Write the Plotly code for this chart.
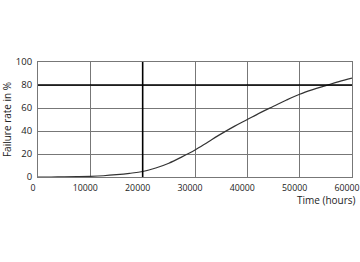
import plotly.graph_objects as go

time_hours = [0, 2500, 5000, 7500, 10000, 12500, 15000, 17500, 20000, 22500, 25000, 27500, 30000,
              32500, 35000, 37500, 40000, 42500, 45000, 47500, 50000, 52500, 55000, 57500, 60000]
failure_pct = [0, 0.02, 0.1, 0.3, 0.6, 1.1, 2.0, 3.2, 4.8, 7.8, 12, 17.5, 23.5,
               30.5, 37.5, 44, 50, 56, 61.5, 67, 72, 76, 79.5, 83, 86]
x_ticks = [0, 10000, 20000, 30000, 40000, 50000, 60000]
y_ticks = [0, 20, 40, 60, 80, 100]

fig = go.Figure()
fig.add_trace(go.Scatter(x=time_hours, y=failure_pct, mode="lines", line=dict(color="#333333", width=1.2, shape="spline"),
                         showlegend=False, hoverinfo="skip"))

font = dict(family="Open Sans, Liberation Sans, sans-serif", size=8.8, color="#222222")
title_font = dict(family=font["family"], size=10, color="#222222")
fig.update_layout(
    width=360, height=262,
    margin=dict(l=38, r=8, t=62, b=85),
    paper_bgcolor="white", plot_bgcolor="white",
    font=font,
    xaxis=dict(range=[0, 60000], tickvals=x_ticks, ticktext=[str(v) for v in x_ticks],
               showgrid=True, gridcolor="#777777", gridwidth=1, zeroline=False,
               showline=True, linecolor="#777777", linewidth=1, mirror=True, ticks="", ticklen=0,
               tickfont=font, fixedrange=True, ticklabeloverflow="allow", automargin=False,
               ticklabelshift=-5, ticklabelstandoff=2),
    yaxis=dict(range=[0, 100], tickvals=y_ticks, ticktext=[str(v) for v in y_ticks],
               showgrid=True, gridcolor="#777777", gridwidth=1, zeroline=False,
               showline=True, linecolor="#777777", linewidth=1, mirror=True, ticks="", ticklen=0,
               tickfont=dict(family=font["family"], size=9.5, color="#222222"), fixedrange=True, automargin=False,
               ticklabelstandoff=3,
               title=dict(text="Failure rate in %", font=title_font, standoff=3)),
)
fig.add_shape(type="line", xref="x", yref="y", x0=20000, x1=20000, y0=0, y1=100, line=dict(color="black", width=1.6))
fig.add_shape(type="line", xref="x", yref="y", x0=0, x1=60000, y0=80, y1=80, line=dict(color="black", width=1.6))
fig.add_annotation(text="Time (hours)", xref="paper", yref="paper", x=1.02, y=-0.12, xanchor="right", yanchor="top",
                   showarrow=False, font=title_font)
fig.write_html("out.html")
